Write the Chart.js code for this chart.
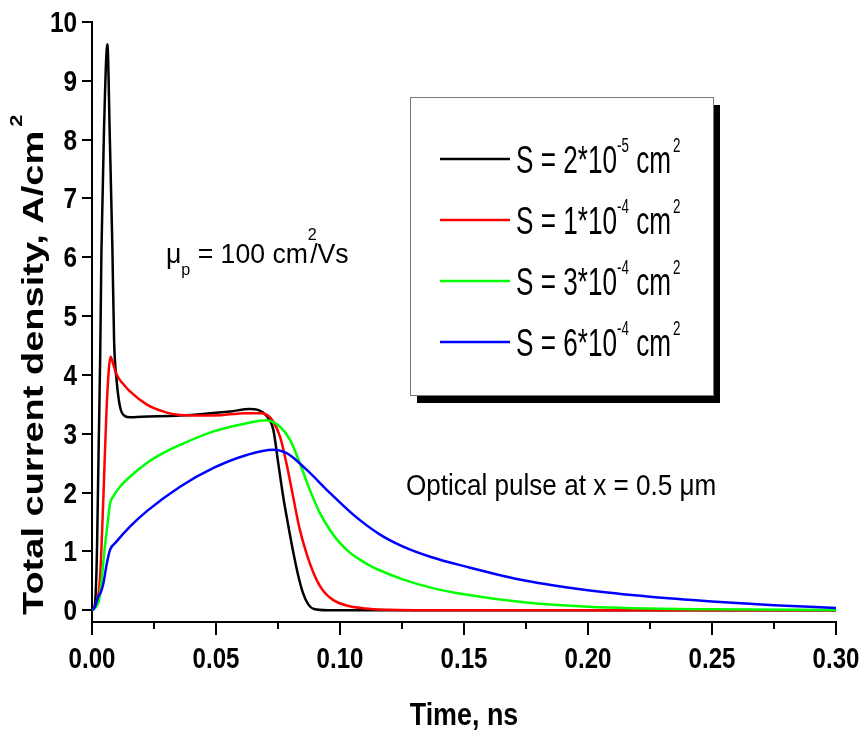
<!DOCTYPE html>
<html>
<head>
<meta charset="utf-8">
<script src="https://cdn.jsdelivr.net/npm/chart.js@4.4.1/dist/chart.umd.min.js"></script>
<style>
  html, body { margin: 0; padding: 0; background: #fff; }
  canvas { display: block; }
</style>
</head>
<body>
<canvas id="chart" width="865" height="737"></canvas>
<script>
// axis ticks
const xTicks = [0, 0.05, 0.1, 0.15, 0.2, 0.25, 0.3];
const xTickLabels = ["0.00", "0.05", "0.10", "0.15", "0.20", "0.25", "0.30"];
const xMinorTicks = [0.025, 0.075, 0.125, 0.175, 0.225, 0.275];
const yTicks = [0, 1, 2, 3, 4, 5, 6, 7, 8, 9, 10];

// legend text: S = coef*10^exp cm^2
const seriesCoef = ["2", "1", "3", "6"];
const seriesExp = ["-5", "-4", "-4", "-4"];
const seriesColors = ["#000000", "#ff0000", "#00ff00", "#0000ff"];

// time (ns) / current density (A/cm2)
const blackT = [0, 0.001, 0.0015, 0.002, 0.0027, 0.0033, 0.0038, 0.0048, 0.0062, 0.0072, 0.0082, 0.0089, 0.0099, 0.0113, 0.0133, 0.0153, 0.02, 0.0355, 0.0557, 0.0637, 0.0665, 0.0704, 0.0731, 0.0751, 0.0771, 0.0791, 0.0811, 0.0831, 0.0851, 0.0872, 0.0895, 0.095, 0.12, 0.2, 0.3];
const blackJ = [0, 0.05, 0.3, 1.0, 2.8, 4.3, 6.1, 8.1, 9.62, 8.0, 6.2, 4.6, 3.92, 3.46, 3.3, 3.28, 3.29, 3.31, 3.38, 3.42, 3.41, 3.30, 3.07, 2.50, 1.93, 1.45, 1.0, 0.6, 0.29, 0.1, 0.02, 0, 0, 0, 0];

const redT = [0, 0.0015, 0.0032, 0.0046, 0.0058, 0.0068, 0.0075, 0.0083, 0.0095, 0.011, 0.0125, 0.0153, 0.022, 0.0286, 0.0355, 0.049, 0.0624, 0.068, 0.072, 0.0758, 0.0784, 0.0811, 0.0838, 0.0878, 0.0905, 0.0932, 0.097, 0.1026, 0.11, 0.12, 0.135, 0.2, 0.3];
const redJ = [0, 0.1, 0.52, 1.93, 3.35, 4.1, 4.31, 4.22, 4.05, 3.93, 3.85, 3.72, 3.5, 3.38, 3.32, 3.31, 3.35, 3.35, 3.27, 2.95, 2.50, 1.93, 1.37, 0.80, 0.52, 0.33, 0.18, 0.08, 0.03, 0.008, 0, 0, 0];

const greenT = [0, 0.0015, 0.0031, 0.0052, 0.0066, 0.0073, 0.0085, 0.0113, 0.0153, 0.022, 0.0286, 0.0355, 0.049, 0.0624, 0.0703, 0.0758, 0.0798, 0.0838, 0.0878, 0.0919, 0.096, 0.1, 0.104, 0.108, 0.112, 0.116, 0.125, 0.137, 0.15, 0.175, 0.2, 0.25, 0.3];
const greenJ = [0, 0.05, 0.23, 1.08, 1.59, 1.82, 1.93, 2.1, 2.27, 2.50, 2.67, 2.81, 3.04, 3.18, 3.23, 3.12, 2.90, 2.50, 2.05, 1.65, 1.36, 1.14, 0.98, 0.86, 0.76, 0.68, 0.53, 0.38, 0.27, 0.13, 0.06, 0.015, 0.005];

const blueT = [0, 0.0012, 0.0025, 0.0035, 0.0046, 0.006, 0.0073, 0.0095, 0.0153, 0.022, 0.0355, 0.049, 0.0624, 0.073, 0.0785, 0.0865, 0.0958, 0.1052, 0.116, 0.125, 0.137, 0.15, 0.175, 0.2, 0.225, 0.25, 0.275, 0.3];
const blueJ = [0, 0.06, 0.23, 0.3, 0.46, 0.8, 1.03, 1.15, 1.42, 1.68, 2.10, 2.42, 2.64, 2.73, 2.67, 2.39, 2.0, 1.63, 1.29, 1.09, 0.9, 0.75, 0.5, 0.34, 0.23, 0.15, 0.085, 0.04];

const FONT = '"Liberation Sans", Arial, Helvetica, sans-serif';

function toPoints(ts, js) {
  return ts.map((t, i) => ({ x: t, y: js[i] }));
}

// draws a run of text pieces (for super/subscripts), squeezed like the original
function richText(ctx, x, y, parts, o) {
  ctx.save();
  ctx.translate(x, y);
  if (o.rotate) ctx.rotate(o.rotate);
  ctx.scale(o.sx || 1, o.sy || 1);
  ctx.fillStyle = "#000";
  ctx.textBaseline = "alphabetic";
  ctx.textAlign = "left";
  const fontOf = (p) => ((p.bold !== undefined ? p.bold : o.bold) ? "bold " : "") + (p.size || o.size) + "px " + FONT;
  let total = 0;
  parts.forEach((p) => {
    ctx.font = fontOf(p);
    total += (p.dx || 0) + ctx.measureText(p.t).width;
  });
  let cx = 0;
  if (o.align === "center") cx = -total / 2;
  if (o.align === "right") cx = -total;
  parts.forEach((p) => {
    ctx.font = fontOf(p);
    cx += p.dx || 0;
    ctx.fillText(p.t, cx, p.dy || 0);
    cx += ctx.measureText(p.t).width;
  });
  ctx.restore();
}

const textPlugin = {
  id: "texts",
  afterDraw(chart) {
    const ctx = chart.ctx;
    const xs = chart.scales.x;
    const ys = chart.scales.y;

    // minor x ticks
    ctx.save();
    ctx.strokeStyle = "#000";
    ctx.lineWidth = 2;
    xMinorTicks.forEach((v) => {
      const px = Math.round(xs.getPixelForValue(v));
      ctx.beginPath();
      ctx.moveTo(px, xs.top);
      ctx.lineTo(px, xs.top + 7);
      ctx.stroke();
    });
    ctx.restore();

    // tick labels
    xTicks.forEach((v, i) => {
      richText(ctx, xs.getPixelForValue(v), 668, [{ t: xTickLabels[i] }], { size: 29, bold: true, sx: 0.83, align: "center" });
    });
    yTicks.forEach((v) => {
      richText(ctx, 77, ys.getPixelForValue(v) + 10, [{ t: String(v) }], { size: 29, bold: true, sx: 0.84, align: "right" });
    });

    // axis titles
    richText(ctx, (chart.chartArea.left + chart.chartArea.right) / 2, 725, [{ t: "Time, ns" }], { size: 32, bold: true, sx: 0.84, align: "center" });
    richText(ctx, 43, 615, [
      { t: "Total current density, A/cm" },
      { t: "2", size: 22, dy: -27, dx: 4 }
    ], { size: 38, bold: true, sy: 0.78, rotate: -Math.PI / 2 });

    // annotations
    richText(ctx, 166, 263, [
      { t: "\u03bc" },
      { t: "p", size: 17, dy: 12 },
      { t: " = 100 cm" },
      { t: "2", size: 17, dy: -23 },
      { t: "/Vs", dx: -7 }
    ], { size: 28, sx: 0.95 });
    richText(ctx, 406, 495, [{ t: "Optical pulse at x = 0.5 \u03bcm" }], { size: 30, sx: 0.87 });

    // legend box with drop shadow
    ctx.save();
    ctx.fillStyle = "#000";
    ctx.fillRect(417, 105, 303, 298);
    ctx.fillStyle = "#fff";
    ctx.fillRect(410, 97, 303, 298);
    ctx.strokeStyle = "#7a7a7a";
    ctx.lineWidth = 1;
    ctx.strokeRect(410.5, 97.5, 303, 298);
    seriesColors.forEach((c, i) => {
      const ly = 159 + i * 61;
      ctx.strokeStyle = c;
      ctx.lineWidth = 2.5;
      ctx.beginPath();
      ctx.moveTo(440, ly);
      ctx.lineTo(510, ly);
      ctx.stroke();
      richText(ctx, 516, ly + 14, [
        { t: "S = " + seriesCoef[i] + "*10" },
        { t: seriesExp[i], size: 20, dy: -21 },
        { t: " cm" },
        { t: "2", size: 20, dy: -21, dx: 3 }
      ], { size: 39, sx: 0.67 });
    });
    ctx.restore();
  }
};

const seriesData = [
  toPoints(blackT, blackJ),
  toPoints(redT, redJ),
  toPoints(greenT, greenJ),
  toPoints(blueT, blueJ)
];

new Chart(document.getElementById("chart"), {
  type: "line",
  data: {
    datasets: seriesData.map((d, i) => ({
      label: "S = " + seriesCoef[i] + "*10^" + seriesExp[i] + " cm2",
      data: d,
      borderColor: seriesColors[i],
      backgroundColor: seriesColors[i],
      borderWidth: 2.5,
      pointRadius: 0,
      fill: false,
      cubicInterpolationMode: "monotone",
      order: 3 - i
    }))
  },
  options: {
    responsive: false,
    animation: false,
    layout: { padding: { top: 22, right: 29, left: 0, bottom: 0 } },
    plugins: {
      legend: { display: false },
      tooltip: { enabled: false }
    },
    scales: {
      x: {
        type: "linear",
        min: 0,
        max: 0.3,
        afterBuildTicks: (s) => { s.ticks = xTicks.map((v) => ({ value: v })); },
        afterFit: (s) => { s.height = 115; },
        ticks: { display: false },
        grid: { drawOnChartArea: false, drawTicks: true, tickLength: 13, color: "#000", lineWidth: 2 },
        border: { display: true, color: "#000", width: 2 }
      },
      y: {
        type: "linear",
        min: -0.2,
        max: 10,
        afterBuildTicks: (s) => { s.ticks = yTicks.map((v) => ({ value: v })); },
        afterFit: (s) => { s.width = 92; },
        ticks: { display: false },
        grid: { drawOnChartArea: false, drawTicks: true, tickLength: 10, color: "#000", lineWidth: 2 },
        border: { display: true, color: "#000", width: 2 }
      }
    }
  },
  plugins: [textPlugin]
});
</script>
</body>
</html>
